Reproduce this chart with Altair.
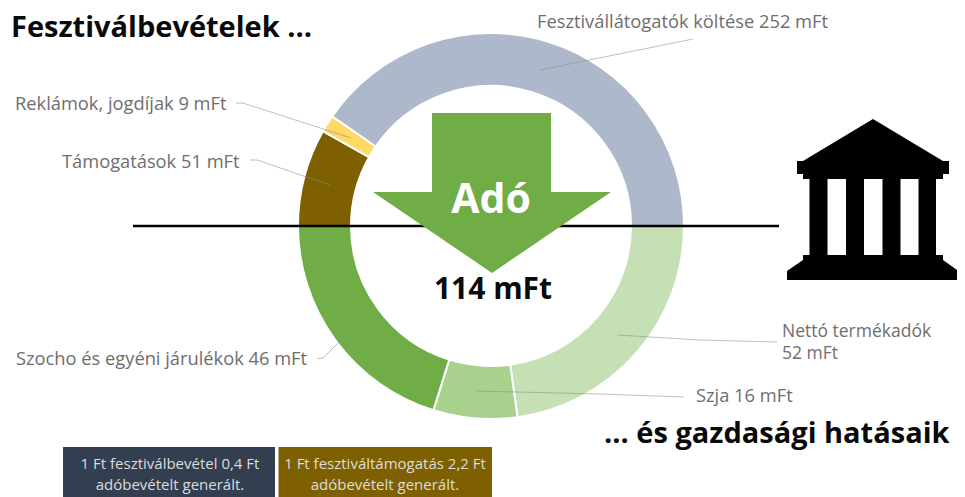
import altair as alt
import pandas as pd

# ---- values ----
top_names = ["Támogatások", "Reklámok, jogdíjak", "Fesztivállátogatók költése"]
top_values = [51, 9, 252]
top_colors = ["#7F6000", "#FFD966", "#ADB9CA"]
bottom_names = ["Nettó termékadók", "Szja", "Szocho és egyéni járulékok"]
bottom_values = [52, 16, 46]
bottom_colors = ["#C5E0B4", "#A9D18E", "#70AD47"]

# ---- layout (screen pixels) ----
W, H = 949, 489
FONT = "Open Sans"
PI = 3.14159265358979
cx, cy = 491, 226
xs = alt.Scale(domain=[8, 8 + W], range=[0, W], nice=False, zero=False)
ys = alt.Scale(domain=[8, 8 + H], range=[0, H], nice=False, zero=False)


def X(f="x", t="Q"):
    return alt.X(f"{f}:{t}", scale=xs, axis=None, title=None)


def Y(f="y", t="Q"):
    return alt.Y(f"{f}:{t}", scale=ys, axis=None, title=None)


def half(names, values, colors, start):
    df = pd.DataFrame({"n": names, "v": values, "c": colors, "o": range(len(names)),
                       "x": cx, "y": cy})
    return alt.Chart(df).mark_arc(radius=193, radius2=140, stroke="white", strokeWidth=2).encode(
        theta=alt.Theta("v:Q", stack=True,
                        scale=alt.Scale(domain=[0, sum(values)], range=[start, start + PI])),
        order=alt.Order("o:O"),
        color=alt.Color("c:N", scale=None, legend=None),
        x=X(), y=Y(),
    )


ring = alt.layer(
    half(top_names, top_values, top_colors, -PI / 2),
    half(bottom_names, bottom_values, bottom_colors, PI / 2),
).resolve_scale(theta="independent")

# leader lines
leaders = [
    [(693, 39), (540, 70)],
    [(236, 103), (243, 103), (351, 138)],
    [(250, 160), (257, 160), (330, 185)],
    [(317, 359), (323, 358), (357, 324)],
    [(777, 342), (700, 340), (617, 335)],
    [(684, 397), (600, 394), (476, 391)],
]
ldf = pd.DataFrame([{"x": p[0], "y": p[1], "i": k, "o": j}
                    for k, l in enumerate(leaders) for j, p in enumerate(l)])
leader_lines = alt.Chart(ldf).mark_line(color="#8c8c8c", strokeWidth=1, opacity=0.55).encode(
    x=X(), y=Y(), detail="i:N", order="o:Q")

# horizontal line
hline = alt.Chart(pd.DataFrame({"x": [133], "x2": [779], "y": [226]})).mark_rule(
    color="black", strokeWidth=2.5).encode(x=X(), x2="x2:Q", y=Y())

# arrow
GREEN = "#70AD47"
shaft = alt.Chart(pd.DataFrame({"x": [432], "x2": [551], "y": [113], "y2": [193]})).mark_rect(
    color=GREEN).encode(x=X(), x2="x2:Q", y=Y(), y2="y2:Q")
head = alt.Chart(pd.DataFrame({"x": [373, 492, 611], "y": [192, 192, 192], "y2": [192, 273, 192]})).mark_area(
    color=GREEN).encode(x=X(), y=Y(), y2="y2:Q")

# temple
rects = pd.DataFrame({
    "x":  [797, 803, 809.5, 846, 882.5, 918.5, 803],
    "x2": [949, 943, 827.5, 864, 900.5, 936, 943],
    "y":  [161, 174, 179, 179, 179, 179, 255],
    "y2": [174, 179, 256, 256, 256, 256, 260],
})
temple_r = alt.Chart(rects).mark_rect(color="black").encode(x=X(), x2="x2:Q", y=Y(), y2="y2:Q")
roof = alt.Chart(pd.DataFrame({"x": [803, 873, 943], "y": [161, 119, 161], "y2": [161, 161, 161]})).mark_area(
    color="black").encode(x=X(), y=Y(), y2="y2:Q")
base = alt.Chart(pd.DataFrame({"x": [787, 803, 943, 957], "y": [271, 260, 260, 270], "y2": [280, 280, 280, 280]})).mark_area(
    color="black").encode(x=X(), y=Y(), y2="y2:Q")

# boxes
boxes = alt.Chart(pd.DataFrame({"x": [63, 278.5], "x2": [275, 492], "y": [447, 447], "y2": [497, 497],
                                "c": ["#333F50", "#7F6000"]})).mark_rect().encode(
    x=X(), x2="x2:Q", y=Y(), y2="y2:Q", color=alt.Color("c:N", scale=None, legend=None))


def text(rows, size, color, weight="normal", align="left"):
    df = pd.DataFrame(rows, columns=["t", "x", "y"])
    return alt.Chart(df).mark_text(font=FONT, fontSize=size, color=color, fontWeight=weight,
                                   align=align, baseline="middle").encode(
        x=X(), y=Y(), text="t:N")


GRAY = "#6e6e6e"
labels = text([
    ["Fesztivállátogatók költése 252 mFt", 537, 23],
    ["Reklámok, jogdíjak 9 mFt", 15, 105],
    ["Támogatások 51 mFt", 62, 163],
    ["Szocho és egyéni járulékok 46 mFt", 16, 360],
    ["Szja 16 mFt", 696, 397],
], 18.3, GRAY)
labels2 = text([
    ["Nettó termékadók", 782, 332],
    ["52 mFt", 782, 354],
], 17.5, GRAY)
titles = text([
    ["Fesztiválbevételek ...", 11, 28],
], 29, "#0a0a0a", "bold")
titles2 = text([
    ["... és gazdasági hatásaik", 604, 434],
], 29, "#0a0a0a", "bold")
ado = text([["Adó", 491, 201]], 41, "white", "bold", "center")
amount = text([["114 mFt", 493, 290]], 30, "#0a0a0a", "bold", "center")
box_text = text([
    ["1 Ft fesztiválbevétel 0,4 Ft", 170, 464],
    ["adóbevételt generált.", 170, 485],
    ["1 Ft fesztiváltámogatás 2,2 Ft", 385, 464],
    ["adóbevételt generált.", 385, 485],
], 15, "#dcdcdc", "normal", "center")

chart = alt.layer(
    ring, leader_lines, hline, shaft, head, roof, temple_r, base, boxes,
    labels, labels2, titles, titles2, ado, amount, box_text,
).resolve_scale(theta="independent").properties(
    width=W, height=H, padding=0, autosize=alt.AutoSizeParams(type="none"),
).configure_view(stroke=None)

chart.save("out.html", embed_options={"renderer": "svg", "actions": False})
